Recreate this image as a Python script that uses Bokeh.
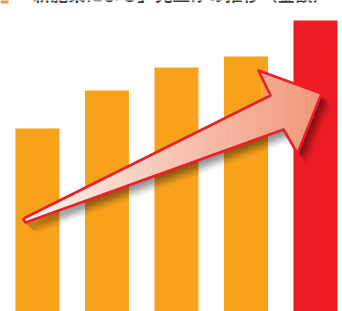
from bokeh.plotting import figure
from bokeh.models import Range1d
from bokeh.embed import file_html
from bokeh.resources import INLINE
from bokeh.core.properties import value

# ---- data ----
categories = ["1", "2", "3", "4", "5"]
values = [183, 221, 244, 255, 291]
bar_colors = ["#F8A11B", "#F8A11B", "#F8A11B", "#F8A11B", "#ED1C24"]
title_text = "「新施策による」売上げの推移（金額）"

# arrow outline (reference pixel space, y downward)
arrow_x = [25, 270, 258, 321, 297, 283, 25, 23]
arrow_y = [217, 95, 70, 93, 153, 129, 222, 219]

W, H = 342, 311
p = figure(width=W, height=H, output_backend="svg", toolbar_location=None,
           x_range=Range1d(-0.532, 4.389), y_range=Range1d(0, 311),
           min_border=0, min_border_left=0, min_border_right=0,
           min_border_top=0, min_border_bottom=0)
p.extra_x_ranges = {"px": Range1d(0, 342)}
p.extra_y_ranges = {"py": Range1d(311, 0)}
p.axis.visible = False
p.grid.visible = False
p.outline_line_color = None
p.background_fill_color = "white"
p.border_fill_color = "white"

xs = list(range(len(categories)))
p.vbar(x=xs, top=values, bottom=0, width=0.633, fill_color=bar_colors, line_color=None)

# title (cut at top, like the reference)
p.quad(left=[0], right=[8], top=[-5], bottom=[3], x_range_name="px", y_range_name="py",
       fill_color="#D9A055", line_color=None)
p.text(x=[15], y=[5.5], text=[title_text], x_range_name="px", y_range_name="py",
       text_font=value("Noto Sans CJK JP"), text_font_size="17.5px", text_font_style="bold",
       text_color="#3a3a3a", text_baseline="bottom", text_align="left")

# shadow
for dx, dy, a in [(2, 3, 0.10), (4, 5, 0.13), (6, 7, 0.13), (8, 9, 0.09), (10, 11, 0.05)]:
    p.patch([x + dx for x in arrow_x], [y + dy for y in arrow_y], x_range_name="px",
            y_range_name="py", fill_color="black", fill_alpha=a, line_color=None)


def clip(poly, x0, keep_greater):
    out = []
    n = len(poly)
    for i in range(n):
        a = poly[i]
        b = poly[(i + 1) % n]
        ina = a[0] >= x0 if keep_greater else a[0] <= x0
        inb = b[0] >= x0 if keep_greater else b[0] <= x0
        if ina:
            out.append(a)
        if ina != inb:
            t = (x0 - a[0]) / (b[0] - a[0])
            out.append((x0, a[1] + t * (b[1] - a[1])))
    return out


def lerp(c1, c2, t):
    return "#%02x%02x%02x" % tuple(int(round(c1[i] + (c2[i] - c1[i]) * t)) for i in range(3))


poly = list(zip(arrow_x, arrow_y))
c_left = (255, 244, 240)
c_right = (242, 152, 122)
xmin, xmax = min(arrow_x), max(arrow_x)
n = 60
sx, sy, sc = [], [], []
for i in range(n):
    a = xmin + (xmax - xmin) * i / n
    b = xmin + (xmax - xmin) * (i + 1) / n
    pc = clip(clip(poly, a, True), b, False)
    if len(pc) >= 3:
        sx.append([q[0] for q in pc])
        sy.append([q[1] for q in pc])
        sc.append(lerp(c_left, c_right, (i + 0.5) / n))
p.patches(sx, sy, x_range_name="px", y_range_name="py", fill_color=sc, line_color=sc,
          line_width=0.8)

p.patch(arrow_x, arrow_y, x_range_name="px", y_range_name="py", fill_alpha=0,
        line_color="#E8202A", line_width=2.6, line_join="round")

open("out.html", "w").write(file_html(p, INLINE))
